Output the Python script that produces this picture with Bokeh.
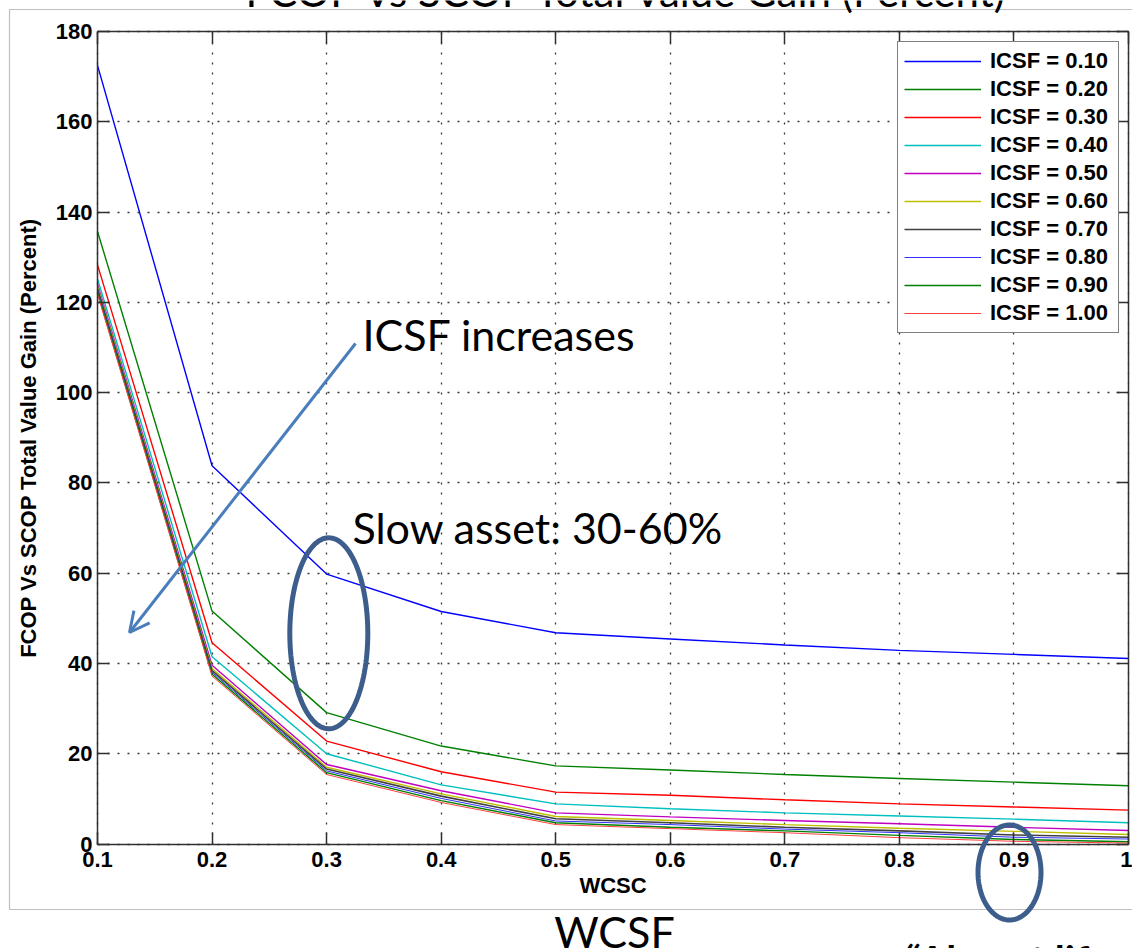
import numpy as np
from bokeh.plotting import figure
from bokeh.models import (Legend, LegendItem, LinearAxis, Arrow, OpenHead, Label,
                          PolyAnnotation, FixedTicker, Range1d)
from bokeh.embed import file_html
from bokeh.resources import INLINE

# ---------------- data ----------------
wcsc = [0.1, 0.2, 0.3, 0.4, 0.5, 0.6, 0.7, 0.8, 0.9, 1.0]
x_tick_labels = ["0.1", "0.2", "0.3", "0.4", "0.5", "0.6", "0.7", "0.8", "0.9", "1"]
y_ticks = [0, 20, 40, 60, 80, 100, 120, 140, 160, 180]

icsf_labels = ["ICSF = 0.10", "ICSF = 0.20", "ICSF = 0.30", "ICSF = 0.40", "ICSF = 0.50",
               "ICSF = 0.60", "ICSF = 0.70", "ICSF = 0.80", "ICSF = 0.90", "ICSF = 1.00"]

gain_010 = [172.5, 83.8, 59.8, 51.5, 46.8, 45.4, 44.1, 42.9, 42.0, 41.1]
gain_020 = [135.7, 51.6, 29.1, 21.7, 17.3, 16.4, 15.4, 14.5, 13.7, 12.9]
gain_030 = [128.3, 44.6, 22.8, 16.0, 11.5, 10.8, 9.8, 8.9, 8.2, 7.5]
gain_040 = [125.2, 41.5, 20.0, 13.1, 8.9, 7.8, 6.9, 6.2, 5.5, 4.7]
gain_050 = [124.0, 39.6, 17.6, 11.8, 6.9, 6.0, 5.2, 4.5, 3.7, 3.0]
gain_060 = [123.5, 38.9, 17.0, 11.1, 6.1, 5.2, 4.3, 3.5, 2.8, 2.1]
gain_070 = [123.0, 38.4, 16.6, 10.6, 5.6, 4.7, 3.7, 2.9, 2.0, 1.5]
gain_080 = [122.6, 38.0, 16.2, 10.1, 5.1, 4.3, 3.3, 2.5, 1.5, 1.1]
gain_090 = [122.2, 37.6, 15.8, 9.6, 4.7, 3.7, 2.9, 1.9, 1.0, 0.5]
gain_100 = [121.8, 37.2, 15.4, 9.2, 4.3, 3.4, 2.5, 1.4, 0.6, 0.2]

series = [gain_010, gain_020, gain_030, gain_040, gain_050,
          gain_060, gain_070, gain_080, gain_090, gain_100]
colors = ["#0000FF", "#008000", "#FF0000", "#00BFBF", "#BF00BF",
          "#BFBF00", "#404040", "#3030FF", "#008000", "#FF4040"]
widths = [1.4, 1.4, 1.4, 1.4, 1.4, 1.4, 1.6, 1.0, 1.4, 1.0]

# ---------------- geometry (canvas pixels) ----------------
W, H = 1132, 948
PL, PR = 97.0, 1128.0      # canvas x of x=0.1 and x=1.0
PT, PB = 31.0, 843.5       # canvas y of y=180 and y=0
PX_PER_X = (PR - PL) / 0.9
PX_PER_Y = (PB - PT) / 180.0


def dx(cx):
    return 0.1 + (cx - PL) / PX_PER_X


def dy(cy):
    return (PB - cy) / PX_PER_Y


p = figure(width=W, height=H, output_backend="svg", toolbar_location=None,
           x_range=Range1d(dx(0), dx(W)), y_range=Range1d(dy(H), dy(0)),
           min_border_left=0, min_border_right=0, min_border_top=0, min_border_bottom=0,
           background_fill_color="white", border_fill_color="white",
           outline_line_color=None)

renderers = []
for ys, c, w in zip(series, colors, widths):
    r = p.line(wcsc, ys, line_color=c, line_width=w)
    renderers.append(r)

# ---------------- axes ----------------
AX_COL = "#303030"
FONT = "Liberation Sans"
for ax in (p.xaxis[0], p.yaxis[0]):
    ax.axis_line_color = AX_COL
    ax.axis_line_width = 1.5
    ax.major_tick_line_color = AX_COL
    ax.major_tick_line_width = 1.5
    ax.major_tick_in = 12
    ax.major_tick_out = 0
    ax.minor_tick_line_color = None
    ax.major_label_text_font = FONT
    ax.major_label_text_font_style = "bold"
    ax.major_label_text_font_size = "22px"
    ax.major_label_text_color = "black"
    ax.axis_label_text_font = FONT
    ax.axis_label_text_font_style = "bold"
    ax.axis_label_text_font_size = "22px"
    ax.axis_label_text_color = "black"

p.xaxis.ticker = FixedTicker(ticks=wcsc)
p.xaxis.major_label_overrides = {t: s for t, s in zip(wcsc, x_tick_labels)}
p.xaxis.major_label_standoff = 8
p.xaxis.axis_label = "WCSC"
p.xaxis.axis_label_standoff = 2
p.xaxis.fixed_location = 0
p.xaxis.bounds = (0.1, 1.0)

p.yaxis.ticker = FixedTicker(ticks=y_ticks)
p.yaxis.major_label_standoff = 5
p.yaxis.axis_label = "FCOP Vs SCOP Total Value Gain (Percent)"
p.yaxis.axis_label_standoff = 12
p.yaxis.fixed_location = 0.1
p.yaxis.bounds = (0, 180)

box_axes = [
    (LinearAxis(ticker=FixedTicker(ticks=wcsc), fixed_location=180, bounds=(0.1, 1.0)), "above"),
    (LinearAxis(ticker=FixedTicker(ticks=y_ticks), fixed_location=1.0, bounds=(0, 180)), "right"),
]
for ax, side in box_axes:
    ax.major_tick_in = 12
    ax.major_tick_out = 0
    ax.major_tick_line_color = AX_COL
    ax.major_tick_line_width = 1.5
    ax.axis_line_color = AX_COL
    ax.axis_line_width = 1.5
    ax.minor_tick_line_color = None
    ax.major_label_text_color = None
    p.add_layout(ax, side)

p.xgrid.ticker = FixedTicker(ticks=wcsc)
p.ygrid.ticker = FixedTicker(ticks=y_ticks)
p.xgrid.bounds = (0.1, 1.0)
p.ygrid.bounds = (0, 180)
p.xgrid.cross_bounds = (0, 180)
p.ygrid.cross_bounds = (0.1, 1.0)
p.grid.grid_line_color = "#222222"
p.grid.grid_line_dash = "2 8"
p.grid.grid_line_width = 1.3
p.grid.grid_line_alpha = 0.9

# ---------------- legend ----------------
legend = Legend(items=[LegendItem(label=l, renderers=[r]) for l, r in zip(icsf_labels, renderers)],
                location=(897, H - 333), padding=6, spacing=2, margin=0,
                glyph_width=77, glyph_height=20, label_height=20, label_width=122,
                label_standoff=9,
                label_text_font=FONT, label_text_font_style="bold",
                label_text_font_size="22px", label_text_color="black",
                border_line_color="black", border_line_width=1.5,
                background_fill_color="white", background_fill_alpha=1.0)
p.add_layout(legend)

# ---------------- slide decorations ----------------
# grey frame of the pasted picture
bx = [dx(9), dx(1300), dx(1300), dx(9)]
by = [dy(9), dy(9), dy(909), dy(909)]
p.add_layout(PolyAnnotation(xs=bx, ys=by, fill_alpha=0, line_color="#BFBFBF",
                            line_alpha=1.0, line_width=1.2))

# ellipses
t = np.linspace(0, 2 * np.pi, 120)
for cx, cy, rx, ry in [(328.3, 632.8, 39.0, 95.5), (1009.0, 872.0, 31.5, 47.5)]:
    ex = [dx(cx + rx * np.cos(a)) for a in t]
    ey = [dy(cy + ry * np.sin(a)) for a in t]
    p.add_layout(PolyAnnotation(xs=ex, ys=ey, fill_alpha=0, line_color="#3D5E8C",
                                line_alpha=1.0, line_width=5))

# arrow
p.add_layout(Arrow(end=OpenHead(size=20, line_color="#4A7EBB", line_width=3),
                   x_start=dx(355), y_start=dy(343), x_end=dx(129), y_end=dy(632),
                   line_color="#4A7EBB", line_width=3))

SLIDE_FONT = "Lato"
p.add_layout(Label(x=dx(362), y=dy(334), text="ICSF increases", text_font=SLIDE_FONT,
                   text_font_size="43px", text_color="black", text_baseline="alphabetic"))
p.add_layout(Label(x=dx(352), y=dy(527), text="Slow asset: 30-60%", text_font=SLIDE_FONT,
                   text_font_size="43px", text_color="black", text_baseline="alphabetic"))
p.add_layout(Label(x=dx(614), y=dy(931), text="WCSF", text_font=SLIDE_FONT,
                   text_font_size="43px", text_color="black", text_baseline="alphabetic",
                   text_align="center"))
p.add_layout(Label(x=dx(1011), y=dy(-10), text="FCOP Vs SCOP Total Value Gain (Percent)",
                   text_font=SLIDE_FONT, text_font_size="42px", text_color="black",
                   text_baseline="alphabetic", text_align="right"))
p.add_layout(Label(x=dx(905), y=dy(959), text="\u201cAlmost lif",
                   text_font=SLIDE_FONT, text_font_style="bold", text_font_size="40px",
                   text_color="black", text_baseline="alphabetic"))

open("out.html", "w").write(file_html(p, INLINE))
